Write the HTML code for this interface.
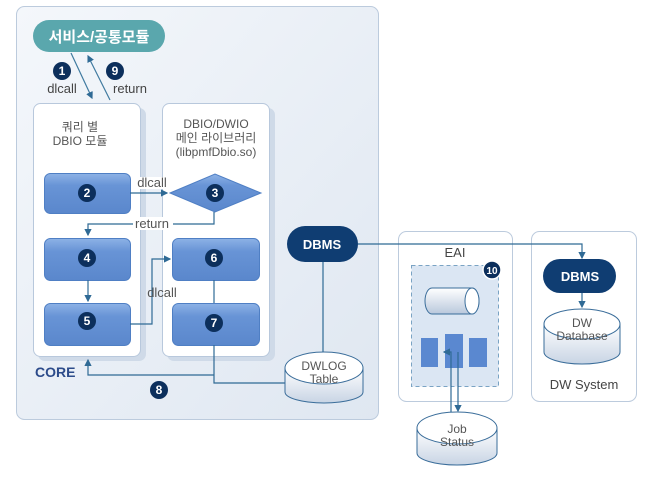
<!DOCTYPE html>
<html><head><meta charset="utf-8"><style>
html,body{margin:0;padding:0;background:#fff;width:658px;height:479px;overflow:hidden}
text{font-family:"Liberation Sans","Noto Sans CJK KR",sans-serif}
</style></head><body>
<svg width="658" height="479" viewBox="0 0 658 479" xmlns="http://www.w3.org/2000/svg">
<defs>
<linearGradient id="bg" x1="0" y1="0" x2="1" y2="1"><stop offset="0" stop-color="#f4f7fb"/><stop offset="1" stop-color="#dfe7f1"/></linearGradient>
<linearGradient id="bx" x1="0" y1="0" x2="0" y2="1"><stop offset="0" stop-color="#8db2e6"/><stop offset="0.3" stop-color="#6894d6"/><stop offset="1" stop-color="#5a87cc"/></linearGradient>
<linearGradient id="cyl" x1="0" y1="0" x2="0" y2="1"><stop offset="0" stop-color="#ffffff"/><stop offset="1" stop-color="#c8d4e4"/></linearGradient>
<linearGradient id="cylh" x1="0" y1="0" x2="0" y2="1"><stop offset="0" stop-color="#ffffff"/><stop offset="1" stop-color="#b9c8dc"/></linearGradient>
<marker id="ar" markerWidth="6" markerHeight="6" refX="5" refY="3" orient="auto"><path d="M0,0 L6,3 L0,6z" fill="#2f6a95"/></marker>
</defs>
<rect x="16.5" y="6.5" width="362" height="413" rx="8" fill="url(#bg)" stroke="#bccbdd"/>
<rect x="33" y="20" width="132" height="32" rx="16" fill="#5aa7ad"/>
<text x="99" y="42" font-size="15" font-weight="bold" fill="#fff" text-anchor="middle">서비스/공통모듈</text>
<g stroke="#3f7aa0" stroke-width="1.2" fill="none">
<line x1="71" y1="53" x2="92" y2="98" marker-end="url(#ar)"/>
<line x1="110" y1="100" x2="88" y2="56" marker-end="url(#ar)"/>
</g>
<g font-weight="bold" font-size="12" fill="#fff" text-anchor="middle">
<circle cx="62" cy="71" r="9" fill="#0c2f5c"/><text x="62" y="75">1</text>
<circle cx="115" cy="71" r="9" fill="#0c2f5c"/><text x="115" y="75">9</text>
</g>
<text x="62" y="93" font-size="13" fill="#444" text-anchor="middle">dlcall</text>
<text x="130" y="93" font-size="13" fill="#444" text-anchor="middle">return</text>
<rect x="38" y="108" width="108" height="253" rx="7" fill="#cfdae8"/>
<rect x="33.5" y="103.5" width="107" height="253" rx="7" fill="#fff" stroke="#b8c8dc"/>
<rect x="167" y="108" width="108" height="253" rx="7" fill="#cfdae8"/>
<rect x="162.5" y="103.5" width="107" height="253" rx="7" fill="#fff" stroke="#b8c8dc"/>
<g font-size="12" fill="#555" text-anchor="middle">
<text x="80" y="131">쿼리 별</text><text x="80" y="145">DBIO 모듈</text>
<text x="216" y="128">DBIO/DWIO</text><text x="216" y="142">메인 라이브러리</text><text x="216" y="156">(libpmfDbio.so)</text>
</g>
<g fill="url(#bx)" stroke="#4f7fc4">
<rect x="44.5" y="173.5" width="86" height="40" rx="6"/>
<rect x="44.5" y="238.5" width="86" height="42" rx="6"/>
<rect x="44.5" y="303.5" width="86" height="42" rx="6"/>
<rect x="172.5" y="238.5" width="87" height="42" rx="6"/>
<rect x="172.5" y="303.5" width="87" height="42" rx="6"/>
<path d="M170,193 L215,174 L261,193 L215,212 Z"/>
</g>
<g stroke="#2f6a95" stroke-width="1.2" fill="none">
<line x1="130" y1="193" x2="167" y2="193" marker-end="url(#ar)"/>
<polyline points="214,212 214,224 88,224 88,235" marker-end="url(#ar)"/>
<line x1="88" y1="280" x2="88" y2="301" marker-end="url(#ar)"/>
<polyline points="130,324 152,324 152,259 170,259" marker-end="url(#ar)"/>
<line x1="214" y1="280" x2="214" y2="303"/>
<polyline points="214,345 214,383 287,383"/>
<polyline points="214,375 88,375 88,360" marker-end="url(#ar)"/>
<line x1="323" y1="262" x2="323" y2="355"/>
</g>
<rect x="133" y="177" width="38" height="12" fill="#fff"/>
<text x="152" y="187" font-size="13" fill="#555" text-anchor="middle">dlcall</text>
<rect x="133" y="217" width="40" height="13" fill="#fff"/>
<text x="152" y="228" font-size="13" fill="#555" text-anchor="middle">return</text>
<text x="162" y="297" font-size="13" fill="#555" text-anchor="middle">dlcall</text>
<g font-weight="bold" font-size="12" fill="#fff" text-anchor="middle">
<circle cx="87" cy="193" r="9" fill="#0c2f5c"/><text x="87" y="197">2</text>
<circle cx="215" cy="193" r="9" fill="#0c2f5c"/><text x="215" y="197">3</text>
<circle cx="87" cy="258" r="9" fill="#0c2f5c"/><text x="87" y="262">4</text>
<circle cx="87" cy="321" r="9" fill="#0c2f5c"/><text x="87" y="325">5</text>
<circle cx="214" cy="258" r="9" fill="#0c2f5c"/><text x="214" y="262">6</text>
<circle cx="214" cy="323" r="9" fill="#0c2f5c"/><text x="214" y="327">7</text>
<circle cx="159" cy="390" r="9" fill="#0c2f5c"/><text x="159" y="394">8</text>
</g>
<text x="35" y="377" font-size="14" font-weight="bold" fill="#2c4b8a">CORE</text>
<rect x="287" y="226" width="71" height="36" rx="18" fill="#0f3d72"/>
<text x="322" y="249" font-size="13" font-weight="bold" fill="#fff" text-anchor="middle">DBMS</text>
<g stroke="#3a6d9a" fill="url(#cyl)">
<path d="M285,368 L285,392 A39,11 0 0 0 363,392 L363,368"/>
<ellipse cx="324" cy="368" rx="39" ry="16" fill="#fff"/>
</g>
<text x="324" y="370" font-size="12" fill="#555" text-anchor="middle">DWLOG</text>
<text x="324" y="383" font-size="12" fill="#555" text-anchor="middle">Table</text>
<rect x="398.5" y="231.5" width="114" height="170" rx="8" fill="#fff" stroke="#bccbdd"/>
<text x="455" y="257" font-size="13" fill="#444" text-anchor="middle">EAI</text>
<rect x="411.5" y="265.5" width="87" height="121" fill="#dbe6f3" stroke="#7aa3c4" stroke-dasharray="4,3"/>
<circle cx="492" cy="270" r="9" fill="#0c2f5c" stroke="#fff" stroke-width="1.5"/>
<text x="492" y="274" font-size="10" font-weight="bold" fill="#fff" text-anchor="middle">10</text>
<g stroke="#3a6d9a" fill="url(#cylh)">
<path d="M432,288 L472,288 A7,13 0 0 1 472,314 L432,314 A7,13 0 0 1 432,288 Z"/>
<ellipse cx="472" cy="301" rx="7" ry="13" fill="#fff"/>
</g>
<g fill="#5a88d0">
<rect x="421" y="338" width="17" height="29"/>
<rect x="445" y="334" width="18" height="34"/>
<rect x="469" y="338" width="18" height="29"/>
</g>
<rect x="531.5" y="231.5" width="105" height="170" rx="8" fill="#fff" stroke="#bccbdd"/>
<rect x="543" y="259" width="73" height="34" rx="17" fill="#0f3d72"/>
<text x="580" y="281" font-size="13" font-weight="bold" fill="#fff" text-anchor="middle">DBMS</text>
<g stroke="#3a6d9a" fill="url(#cyl)">
<path d="M544,324 L544,352 A38,12 0 0 0 620,352 L620,324"/>
<ellipse cx="582" cy="324" rx="38" ry="15" fill="#fff"/>
</g>
<text x="582" y="327" font-size="12" fill="#555" text-anchor="middle">DW</text>
<text x="582" y="340" font-size="12" fill="#555" text-anchor="middle">Database</text>
<text x="584" y="389" font-size="13" fill="#444" text-anchor="middle">DW System</text>
<g stroke="#3a6d9a" fill="url(#cyl)">
<path d="M417,428 L417,453 A40,12 0 0 0 497,453 L497,428"/>
<ellipse cx="457" cy="428" rx="40" ry="16" fill="#fff"/>
</g>
<text x="457" y="433" font-size="12" fill="#555" text-anchor="middle">Job</text>
<text x="457" y="446" font-size="12" fill="#555" text-anchor="middle">Status</text>
<g stroke="#2f6a95" stroke-width="1.2" fill="none">
<polyline points="358,244 582,244 582,258" marker-end="url(#ar)"/>
<line x1="582" y1="293" x2="582" y2="307" marker-end="url(#ar)"/>
<polyline points="451,412 451,352 444,352" marker-end="url(#ar)"/>
<line x1="458" y1="352" x2="458" y2="411" marker-end="url(#ar)"/>
</g>
</svg>
</body></html>
